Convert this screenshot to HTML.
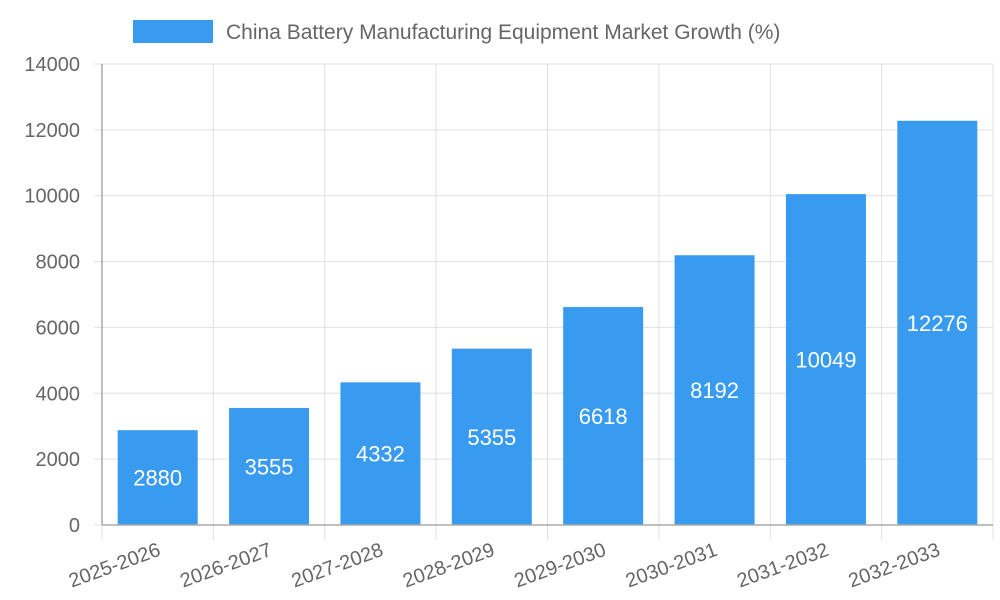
<!DOCTYPE html>
<html><head><meta charset="utf-8"><style>
body{margin:0;background:#fff}
svg{display:block;font-family:"Liberation Sans",sans-serif}
</style></head><body>
<svg id="chart" width="1000" height="600">
<g>
<rect x="133" y="20" width="80" height="23" fill="#389bef"/>
<text x="226" y="39" font-size="21" fill="#666">China Battery Manufacturing Equipment Market Growth (%)</text>
</g>
<g id="grid"></g>
<g id="bars"></g>
<g id="axes"></g>
</svg>
<script>
const categories=["2025-2026","2026-2027","2027-2028","2028-2029","2029-2030","2030-2031","2031-2032","2032-2033"];
const values=[2880,3555,4332,5355,6618,8192,10049,12276];
const yTicks=[0,2000,4000,6000,8000,10000,12000,14000];
const NS="http://www.w3.org/2000/svg";
const L=102,R=993,T=64,B=525,yMax=14000;
const y=v=>B-(v/yMax)*(B-T);
const bw=(R-L)/categories.length;
const xc=i=>L+bw*(i+0.5);
function mk(t,a,p){const e=document.createElementNS(NS,t);for(const k in a)e.setAttribute(k,a[k]);p.appendChild(e);return e;}
const grid=document.getElementById('grid'),bars=document.getElementById('bars'),axes=document.getElementById('axes');
yTicks.forEach(v=>{
 const l=mk('line',{x1:L-8,x2:R,y1:y(v),y2:y(v),stroke:'#e0e0e0','stroke-width':1},grid);
 
 
 const t=mk('text',{x:L-22,y:y(v)+7,'text-anchor':'end','font-size':20,fill:'#666'},axes);
 t.textContent=v;
 
 
});
for(let i=0;i<=categories.length;i++){
 const x=L+bw*i;
 const l=mk('line',{x1:x,x2:x,y1:T,y2:B+15,stroke:'#e0e0e0','stroke-width':1},grid);
 
 
}
values.forEach((v,i)=>{
 const w=80;
 const r=mk('rect',{x:xc(i)-w/2,y:y(v),width:w,height:B-y(v),fill:'#389bef'},bars);
 
 
 const t=mk('text',{x:xc(i),y:(y(v)+B)/2+8,'text-anchor':'middle','font-size':22,fill:'#fff'},bars);
 t.textContent=v;
 
 
 const c=mk('text',{x:xc(i)+4,y:B+30,'text-anchor':'end','font-size':20,fill:'#666',transform:`rotate(-20 ${xc(i)+4} ${B+30})`},axes);
 c.textContent=categories[i];
 
 
});
const ya=mk('line',{x1:L,x2:L,y1:T,y2:B,stroke:'#aaa','stroke-width':1.5},axes);


const xa=mk('line',{x1:L,x2:R,y1:B,y2:B,stroke:'#aaa','stroke-width':1.5},axes);


</script>
</body></html>
